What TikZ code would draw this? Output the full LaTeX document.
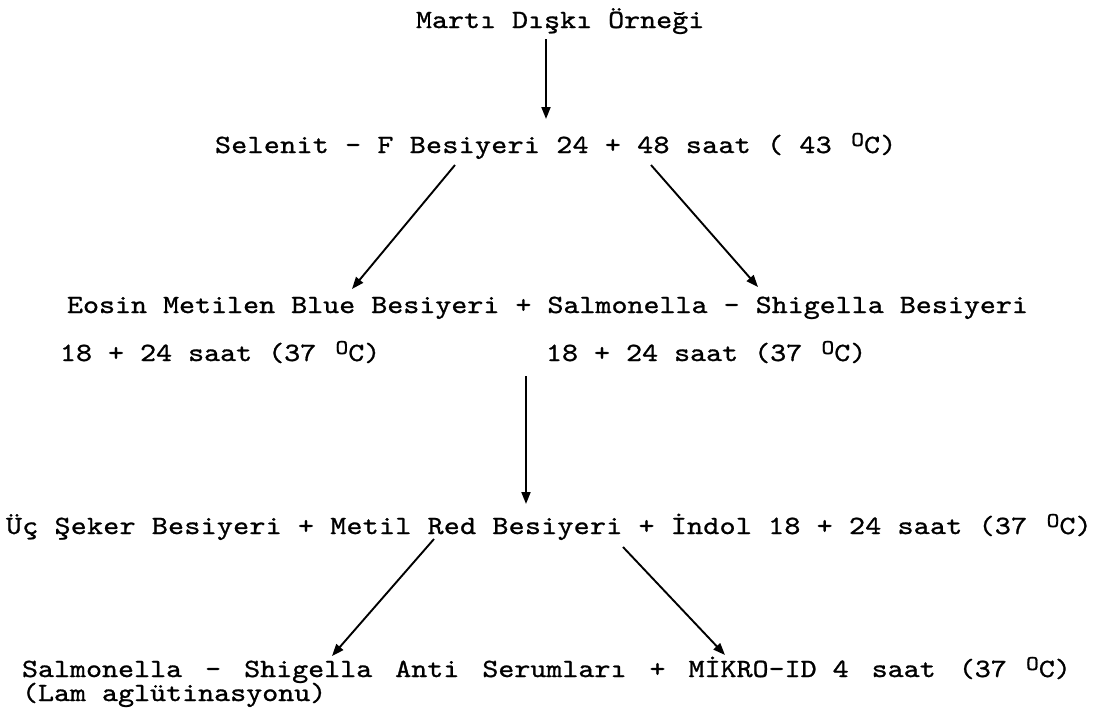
\documentclass[tikz,border=0pt]{standalone}
\usepackage{fontspec}
\usetikzlibrary{arrows.meta}
\newfontfamily\tw[FakeStretch=1.16,FakeBold=1.0]{lmmono10-regular.otf}
\newcommand{\twfont}{\tw\fontsize{26.3pt}{30pt}\selectfont}
\newcommand{\supO}{\makebox[16pt][r]{\raisebox{7pt}{\fontsize{21pt}{21pt}\selectfont O}}}
\newcommand{\gp}{\hspace{23pt}}
\begin{document}
\begin{tikzpicture}[x=1pt,y=-1pt,
  txt/.style={anchor=base west,inner sep=0pt,outer sep=0pt,font=\twfont},
  arr/.style={line width=1.9pt,-{Triangle[length=12pt,width=9pt]}}]
\useasboundingbox[fill=white] (0,0) rectangle (1096,721);
% texts
\node[txt] (mart) at (416,28) {Martı Dışkı Örneği};
\node[txt] (sel) at (215,153) {\addfontfeature{LetterSpace=1.1}Selenit - F Besiyeri 24 + 48 saat ( 43 \supO C)};
\node[txt] (emb) at (67,313) {Eosin Metilen Blue Besiyeri + Salmonella - Shigella Besiyeri};
\node[txt] (tl) at (60,361) {18 + 24 saat (37 \supO C)};
\node[txt] (tr) at (546,361) {18 + 24 saat (37 \supO C)};
\node[txt] (uc) at (6,534) {\addfontfeature{LetterSpace=0.94}Üç Şeker Besiyeri + Metil Red Besiyeri + İndol 18 + 24 saat (37 \supO C)};
\node[txt] (sal) at (22,677) {Salmonella\gp-\gp Shigella\gp Anti\gp Serumları\gp +\gp MİKRO-ID 4\gp saat\gp (37 \supO C)};
\node[txt] (lam) at (22,701) {(Lam aglütinasyonu)};
% connector end points
\coordinate (a1s) at (546,39);  \coordinate (a1e) at (546,119);
\coordinate (a2s) at (455,165); \coordinate (a2e) at (352,289);
\coordinate (a3s) at (651,165); \coordinate (a3e) at (758,287);
\coordinate (a4s) at (526,376); \coordinate (a4e) at (526,504);
\coordinate (a5s) at (434,539); \coordinate (a5e) at (332,656);
\coordinate (a6s) at (623,547); \coordinate (a6e) at (725,655);
\draw[arr] (a1s) -- (a1e);
\draw[arr] (a2s) -- (a2e);
\draw[arr] (a3s) -- (a3e);
\draw[arr] (a4s) -- (a4e);
\draw[arr] (a5s) -- (a5e);
\draw[arr] (a6s) -- (a6e);
\end{tikzpicture}
\end{document}
